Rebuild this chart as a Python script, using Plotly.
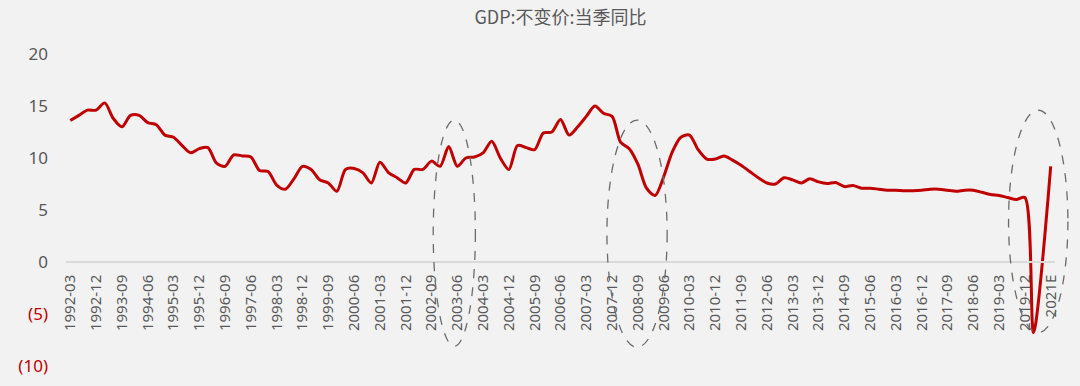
import plotly.graph_objects as go

# Quarterly categories 1992-03 ... 2020-06, then the 2021 estimate
quarters = [f"{y}-{m}" for y in range(1992, 2020) for m in ("03", "06", "09", "12")]
quarters += ["2020-03", "2020-06", "2021E"]

gdp_yoy = [
    13.6, 14.1, 14.6, 14.6,   # 1992
    15.3, 13.8, 13.0, 14.1,   # 1993
    14.1, 13.4, 13.2, 12.2,   # 1994
    12.0, 11.2, 10.5, 10.9,   # 1995
    11.0, 9.5, 9.2, 10.3,     # 1996
    10.2, 10.1, 8.8, 8.7,     # 1997
    7.4, 7.0, 8.0, 9.2,       # 1998
    8.9, 7.9, 7.6, 6.8,       # 1999
    8.9, 9.0, 8.6, 7.6,       # 2000
    9.6, 8.6, 8.1, 7.6,       # 2001
    8.9, 8.9, 9.7, 9.2,       # 2002
    11.1, 9.2, 10.0, 10.1,    # 2003
    10.5, 11.6, 10.0, 8.9,    # 2004
    11.2, 11.0, 10.8, 12.4,   # 2005
    12.5, 13.7, 12.2, 13.0,   # 2006
    14.0, 15.0, 14.3, 14.0,   # 2007
    11.5, 10.9, 9.4, 7.1,     # 2008
    6.4, 8.2, 10.6, 12.0,     # 2009
    12.2, 10.8, 9.9, 9.9,     # 2010
    10.2, 9.8, 9.3, 8.7,      # 2011
    8.1, 7.6, 7.5, 8.1,       # 2012
    7.9, 7.6, 8.0, 7.7,       # 2013
    7.55, 7.65, 7.25, 7.35,   # 2014
    7.1, 7.1, 7.0, 6.9,       # 2015
    6.9, 6.85, 6.85, 6.9,     # 2016
    7.0, 7.0, 6.9, 6.8,       # 2017
    6.9, 6.9, 6.7, 6.5,       # 2018
    6.4, 6.2, 6.0, 6.2,       # 2019
    -6.8, None,               # 2020
    9.2,                      # 2021E
]

tick_labels = quarters[::3]
y_ticks = [-10, -5, 0, 5, 10, 15, 20]
y_ticktext = ['<span style="color:#C00000">(10)</span>',
              '<span style="color:#C00000">(5)</span>',
              "0", "5", "10", "15", "20"]

# highlight ellipses: (category index start, end, value bottom, top)
ellipses = [(42.2, 47.1, -8.1, 13.65), (62.4, 69.4, -8.2, 13.65), (109.1, 116.0, -6.8, 14.6)]

Y_MIN, Y_MAX = -10, 20
n_cat = len(quarters)

fig = go.Figure()
fig.add_trace(go.Scatter(
    x=quarters, y=gdp_yoy, mode="lines",
    line=dict(color="#C00000", width=3, shape="spline", smoothing=0.8),
    connectgaps=True, showlegend=False,
))

for i0, i1, v0, v1 in ellipses:
    fig.add_shape(
        type="circle", xref="x domain", yref="y domain",
        x0=(i0 + 0.5) / n_cat, x1=(i1 + 0.5) / n_cat,
        y0=(v0 - Y_MIN) / (Y_MAX - Y_MIN), y1=(v1 - Y_MIN) / (Y_MAX - Y_MIN),
        line=dict(color="#6b6b6b", width=1.3, dash="dash"),
    )

fig.update_layout(
    width=1080, height=386,
    margin=dict(l=66, r=25, t=54, b=20),
    paper_bgcolor="#F2F2F2", plot_bgcolor="#F2F2F2",
    title=dict(text="GDP:不变价:当季同比", x=0.5, xanchor="center", y=0.955, yanchor="middle",
               xref="paper",
               font=dict(family="Noto Sans CJK SC", size=18, color="#595959")),
    font=dict(family="Noto Sans", color="#595959"),
)
fig.update_xaxes(
    type="category", categoryorder="array", categoryarray=quarters,
    range=[-0.5, n_cat - 0.5],
    anchor="free", position=(0 - Y_MIN) / (Y_MAX - Y_MIN),
    showline=True, linecolor="#D9D9D9", linewidth=1.5,
    showgrid=False, zeroline=False, ticks="",
    tickmode="array", tickvals=tick_labels, ticktext=tick_labels,
    tickangle=-90, tickfont=dict(size=15, color="#595959", family="Noto Sans"),
    ticklabelstandoff=6, automargin=False,
)
fig.update_yaxes(
    range=[Y_MIN, Y_MAX], showgrid=False, zeroline=False, showline=False,
    tickmode="array", tickvals=y_ticks, ticktext=y_ticktext, ticks="",
    tickfont=dict(size=17, color="#595959", family="Noto Sans"),
    ticklabelstandoff=17, automargin=False,
)

fig.write_html(
    "out.html",
    config={"displayModeBar": False},
    post_script="document.body.style.margin='0';document.body.style.background='#F2F2F2';",
)
